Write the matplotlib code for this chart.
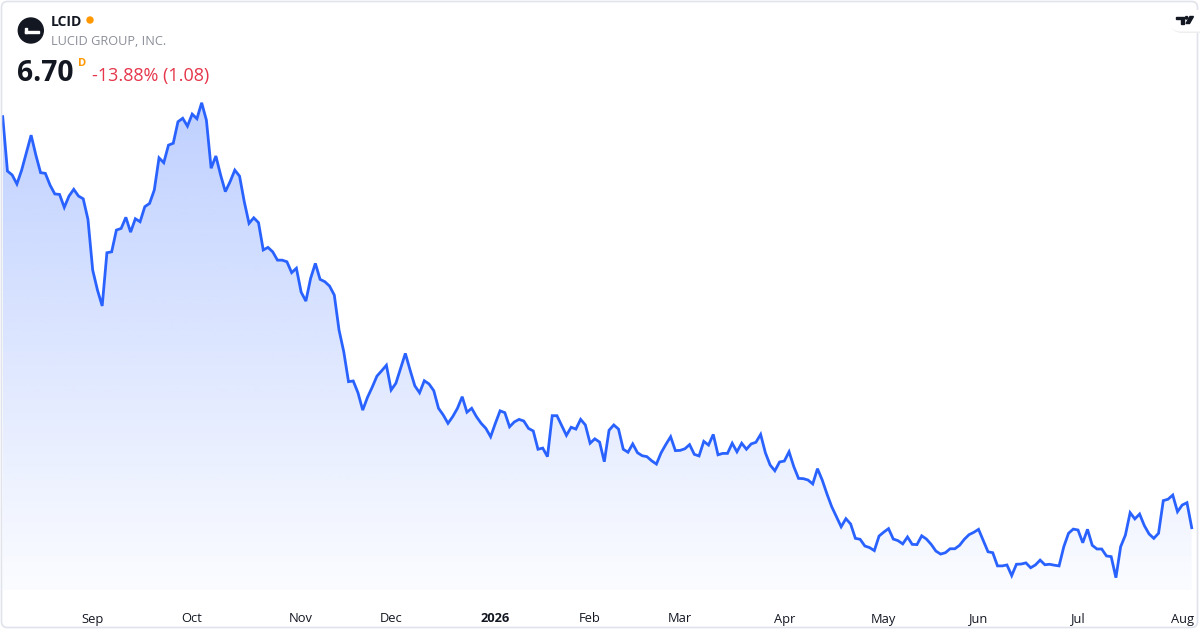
import numpy as np
import pandas as pd
import matplotlib
matplotlib.use("Agg")
import matplotlib.pyplot as plt
from matplotlib.patches import Polygon, Circle, FancyBboxPatch, Rectangle
import matplotlib.transforms as mtransforms

plt.rcParams['font.family'] = ['Open Sans', 'DejaVu Sans']

# daily closes, LCID, Aug 5 2025 .. Aug 5 2026 (trading days)
holidays = ['2025-09-01', '2025-11-27', '2025-12-25', '2026-01-01', '2026-01-19',
            '2026-02-16', '2026-04-03', '2026-05-25', '2026-06-19', '2026-07-03']
dates = pd.bdate_range('2025-08-05', '2026-08-05', freq='C', holidays=holidays)

closes = [
    24.46, 22.11, 21.94, 21.55, 22.15, 22.90, 23.66, 22.80, 22.04, 22.01,
    21.50, 21.12, 21.10, 20.54, 21.03, 21.32, 21.03, 20.91, 20.02, 17.83,
    16.97, 16.28, 18.58, 18.62, 19.56, 19.63, 20.11, 19.47, 20.05, 19.92,
    20.57, 20.71, 21.29, 22.68, 22.47, 23.23, 23.31, 24.24, 24.39, 24.05,
    24.57, 24.37, 25.06, 24.31, 22.23, 22.76, 21.94, 21.22, 21.65, 22.15,
    21.89, 20.78, 19.85, 20.09, 19.88, 18.70, 18.81, 18.62, 18.26, 18.26,
    18.19, 17.72, 17.91, 16.88, 16.49, 17.47, 18.12, 17.43, 17.33, 17.14,
    16.75, 15.24, 14.30, 13.01, 13.04, 12.53, 11.78, 12.33, 12.77, 13.25,
    13.48, 13.72, 12.65, 12.94, 13.59, 14.23, 13.51, 12.83, 12.53, 13.05,
    12.91, 12.62, 11.86, 11.57, 11.21, 11.50, 11.86, 12.36, 11.69, 11.86,
    11.50, 11.21, 10.99, 10.63, 11.21, 11.75, 11.67, 11.06, 11.27, 11.38,
    11.31, 10.99, 10.88, 10.09, 10.14, 9.77, 11.54, 11.54, 11.11, 10.69,
    11.04, 10.96, 11.38, 11.14, 10.35, 10.54, 10.40, 9.55, 10.91, 11.14,
    10.96, 10.09, 9.96, 10.32, 9.94, 9.81, 9.77, 9.59, 9.45, 9.94,
    10.30, 10.63, 10.03, 10.04, 10.11, 10.29, 9.87, 9.80, 10.43, 10.27,
    10.73, 9.85, 9.91, 9.91, 10.35, 9.98, 10.35, 10.09, 10.32, 10.39,
    10.73, 9.94, 9.41, 9.16, 9.54, 9.58, 9.98, 9.34, 8.83, 8.82,
    8.76, 8.59, 9.25, 8.76, 8.16, 7.61, 7.18, 6.74, 7.09, 6.86,
    6.24, 6.20, 5.91, 5.84, 5.71, 6.34, 6.51, 6.66, 6.21, 6.14,
    6.00, 6.30, 5.98, 5.97, 6.35, 6.21, 5.98, 5.69, 5.56, 5.62,
    5.79, 5.79, 5.94, 6.20, 6.40, 6.50, 6.63, 6.14, 5.66, 5.62,
    5.05, 5.05, 5.09, 4.63, 5.12, 5.13, 5.18, 4.97, 5.09, 5.30,
    5.10, 5.12, 5.08, 5.05, 5.88, 6.46, 6.64, 6.60, 6.05, 6.63,
    5.94, 5.78, 5.78, 5.48, 5.45, 4.54, 5.88, 6.38, 7.35, 7.08,
    7.29, 6.79, 6.43, 6.24, 6.46, 7.87, 7.93, 8.11, 7.39, 7.68,
    7.78, 6.70,
]

symbol = "LCID"
company = "LUCID GROUP, INC."
last_price = "6.70"
change_text = "-13.88% (1.08)"

n = min(len(dates), len(closes))
dates = dates[:n]
closes = np.array(closes[:n])
x = np.arange(n)

W, H = 1200, 630
fig = plt.figure(figsize=(W / 100, H / 100), dpi=100)
fig.patch.set_facecolor('white')

blue = '#2962ff'
ax = fig.add_axes([0, 0, 1, 1])
ax.set_xlim(-0.57, n - 1 + 1.75)
ax.set_ylim(2.28, 29.5)
ax.axis('off')

base = 4.0
verts = [(x[0], base)] + list(zip(x, closes)) + [(x[-1], base)]
poly = Polygon(verts, closed=True, facecolor='none', edgecolor='none')
ax.add_patch(poly)
rgba = np.zeros((256, 1, 4))
rgba[..., :3] = matplotlib.colors.to_rgb(blue)
rgba[:, 0, 3] = np.linspace(0.30, 0.02, 256)
im = ax.imshow(rgba, extent=[x[0], x[-1], base, closes.max()], aspect='auto',
               origin='upper', zorder=1, interpolation='bilinear')
im.set_clip_path(poly)
ax.plot(x, closes, color=blue, lw=2.0, solid_joinstyle='miter', zorder=2)

# month labels at first trading day of each month
trans = mtransforms.blended_transform_factory(ax.transData, ax.transAxes)
months = pd.Series(x, index=dates).groupby([dates.year, dates.month]).first()
for (yr, mo), i in months.items():
    if i == 0:
        continue
    if mo == 1:
        ax.text(i, 1 - 622.5 / H, str(yr), transform=trans, ha='center', va='baseline',
                fontsize=9.3, fontweight='bold', color='#131722')
    else:
        ax.text(i, 1 - 622.5 / H, dates[i].strftime('%b'), transform=trans, ha='center',
                va='baseline', fontsize=9.3, color='#131722')

# overlay in pixel coordinates for header, frame and logo
ov = fig.add_axes([0, 0, 1, 1], facecolor='none')
ov.set_xlim(0, W)
ov.set_ylim(H, 0)
ov.axis('off')

ov.add_patch(FancyBboxPatch((1.5, 1.5), W - 4, H - 4, boxstyle='round,pad=0,rounding_size=6',
                            facecolor='none', edgecolor='#e0e3eb', lw=1.2, zorder=5))

ov.add_patch(Circle((30.8, 30.5), 12.5, color='#131722', zorder=6))
ov.add_patch(Rectangle((25, 31), 13.5, 2.0, color='white', zorder=7))
ov.add_patch(Rectangle((25, 28), 1.6, 5.0, color='white', zorder=7))

ov.text(51, 26, symbol, fontsize=10, fontweight='bold', color='#131722', va='baseline')
ov.add_patch(Circle((90, 20), 3, color='#ff9800', zorder=6))
ov.text(51, 45, company, fontsize=9.2, color='#8c8f99', va='baseline')
ov.text(17, 81, last_price, fontsize=20.3, fontweight='bold', color='#131722', va='baseline')
ov.text(78, 65.7, "D", fontsize=8, fontweight='bold', color='#ff9800', va='baseline')
ov.text(92, 81.5, change_text, fontsize=13, color='#e5364a', va='baseline')

# TradingView logo badge
ov.add_patch(FancyBboxPatch((1171, 11), 40, 22, boxstyle='round,pad=0,rounding_size=11',
                            facecolor='#eeeeee', edgecolor='none', zorder=5))
ov.add_patch(FancyBboxPatch((1170, 10), 40, 21.5, boxstyle='round,pad=0,rounding_size=11',
                            facecolor='white', edgecolor='none', zorder=6))
ov.add_patch(Polygon([(1176, 16.5), (1184, 16.5), (1184, 23.5), (1181, 23.5),
                      (1181, 19), (1176, 19)], closed=True, color='#131722', zorder=7))
ov.add_patch(Circle((1186.6, 17.8), 1.3, color='#131722', zorder=7))
ov.add_patch(Polygon([(1190, 16.5), (1193.5, 16.5), (1189.5, 23.5), (1186, 23.5)],
                     closed=True, color='#131722', zorder=7))

fig.savefig('out.png', dpi=100, facecolor='white')
